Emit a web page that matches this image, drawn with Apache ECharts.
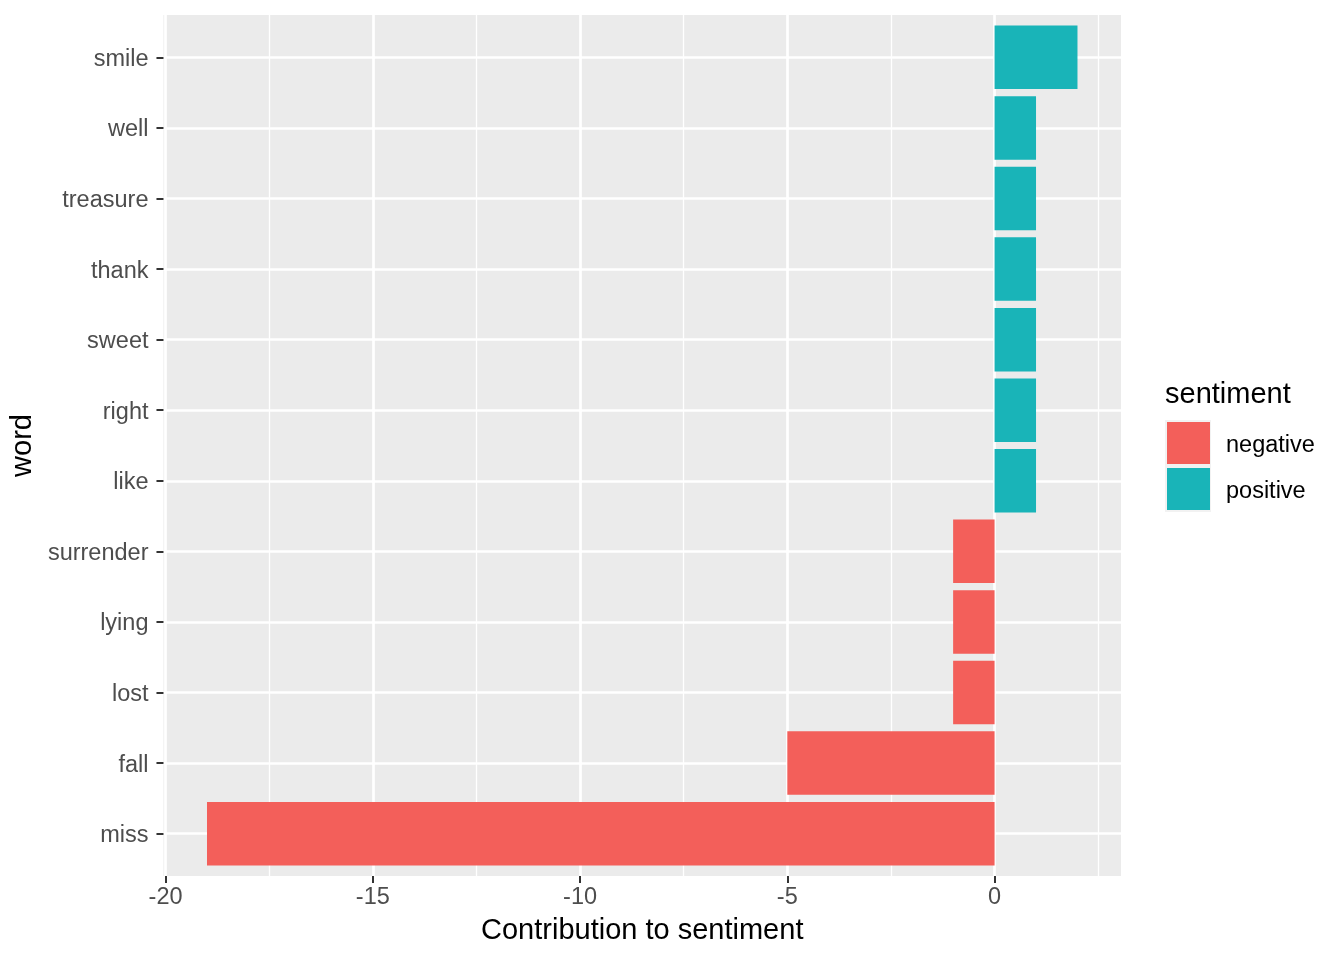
<!DOCTYPE html>
<html>
<head>
<meta charset="utf-8">
<script src="https://cdn.jsdelivr.net/npm/echarts@6/dist/echarts.min.js"></script>
<style>html,body{margin:0;padding:0;background:#fff;}#chart{width:1344px;height:960px;}</style>
</head>
<body>
<div id="chart"></div>
<script>
// Data (bottom to top)
const words = ['miss', 'fall', 'lost', 'lying', 'surrender', 'like', 'right', 'sweet', 'thank', 'treasure', 'well', 'smile'];
const contributions = [-19, -5, -1, -1, -1, 1, 1, 1, 1, 1, 1, 2];
const sentiments = ['negative', 'negative', 'negative', 'negative', 'negative', 'positive', 'positive', 'positive', 'positive', 'positive', 'positive', 'positive'];
const xMajorTicks = [-20, -15, -10, -5, 0];
const xMinorTicks = [-17.5, -12.5, -7.5, -2.5, 2.5];
const sentimentNames = ['negative', 'positive'];
const sentimentColors = ['#F35F5A', '#19B4B8'];

const FONT = 'Liberation Sans, Arial, Helvetica, sans-serif';
const yPositions = words.map((w, i) => i + 1);

function seriesData(name) {
  const out = [];
  words.forEach((w, i) => {
    if (sentiments[i] === name) out.push([contributions[i], yPositions[i]]);
  });
  return out;
}

function renderBar(params, api) {
  const v = api.value(0), y = api.value(1);
  const p0 = api.coord([0, y]);
  const p1 = api.coord([v, y]);
  const h = api.size([0, 0.9])[1];
  return {
    type: 'rect',
    shape: { x: Math.min(p0[0], p1[0]), y: p0[1] - h / 2, width: Math.abs(p1[0] - p0[0]), height: h },
    style: { fill: api.visual('color') }
  };
}

const chart = echarts.init(document.getElementById('chart'), null, { renderer: 'canvas' });
const option = {
  animation: false,
  backgroundColor: '#ffffff',
  textStyle: { fontFamily: FONT },
  title: {
    text: 'sentiment', left: 1165, top: 380, padding: 0,
    textStyle: { fontSize: 29, fontWeight: 'normal', color: '#000000', fontFamily: FONT }
  },
  graphic: [{
    type: 'rect', left: 1165, top: 420, z: 0,
    shape: { width: 46, height: 92 },
    style: { fill: '#F2F2F2' }
  }],
  legend: {
    orient: 'vertical', left: 1167, top: 422, padding: 0, z: 5,
    itemWidth: 43, itemHeight: 42, itemGap: 4, icon: 'rect',
    selectedMode: false,
    data: sentimentNames,
    formatter: name => '{t|' + name + '}',
    textStyle: {
      fontSize: 23.5, color: '#000000', fontFamily: FONT, padding: [0, 0, 0, 11],
      rich: { t: { fontSize: 23.5, color: '#000000', fontFamily: FONT, padding: [6, 0, 0, 0] } }
    }
  },
  grid: { left: 163, right: 223, top: 15, bottom: 84, show: true, backgroundColor: '#EBEBEB', borderWidth: 0 },
  xAxis: [{
    type: 'value', min: -20.05, max: 3.05,
    name: 'Contribution to sentiment', nameLocation: 'middle', nameGap: 40,
    nameTextStyle: { fontSize: 29, color: '#000000', fontFamily: FONT },
    axisLine: { show: false, onZero: false },
    axisTick: { show: true, length: 7, lineStyle: { color: '#333333', width: 2 }, customValues: xMajorTicks },
    axisLabel: { customValues: xMajorTicks, fontSize: 23.5, color: '#4D4D4D', margin: 10, fontFamily: FONT,
      formatter: v => String(v) },
    splitLine: { show: true, lineStyle: { color: '#FFFFFF', width: 2.7 } },
    z: 3
  }, {
    type: 'value', min: -20.05, max: 3.05, position: 'bottom',
    axisLine: { show: false, onZero: false },
    axisTick: { show: false, customValues: xMinorTicks },
    axisLabel: { show: false },
    splitLine: { show: true, lineStyle: { color: '#FFFFFF', width: 1.3 } },
    z: 2
  }],
  yAxis: {
    type: 'value', min: 0.4, max: 12.6, position: 'left',
    name: 'word', nameLocation: 'middle', nameGap: 120, nameRotate: 90,
    nameTextStyle: { fontSize: 29, color: '#000000', fontFamily: FONT },
    axisLine: { show: false, onZero: false },
    axisTick: { show: true, length: 7, lineStyle: { color: '#333333', width: 2 }, customValues: yPositions },
    axisLabel: { customValues: yPositions, fontSize: 23.5, color: '#4D4D4D', margin: 15, fontFamily: FONT,
      formatter: v => '{w|' + (words[Math.round(v) - 1] || '') + '}',
      rich: { w: { fontSize: 23.5, color: '#4D4D4D', fontFamily: FONT, padding: [4, 0, 0, 0] } } },
    splitLine: { show: true, lineStyle: { color: '#FFFFFF', width: 2.7 } }
  },
  series: sentimentNames.map((name, k) => ({
    name: name,
    type: 'custom',
    renderItem: renderBar,
    encode: { x: 0, y: 1 },
    itemStyle: { color: sentimentColors[k] },
    data: seriesData(name),
    z: 4
  }))
};
chart.setOption(option);
</script>
</body>
</html>
